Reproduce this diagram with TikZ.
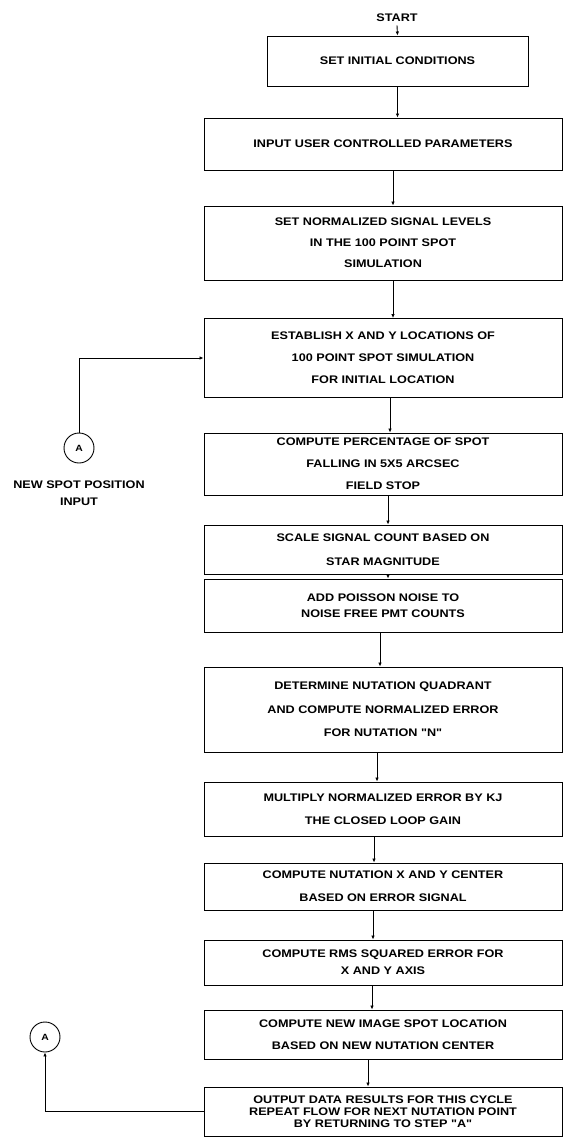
\documentclass[tikz,border=0pt]{standalone}
\usepackage{fontspec}
\newfontfamily\flowfont{Liberation Sans}[FakeStretch=1.15]
\usetikzlibrary{arrows.meta}

\begin{document}
\begin{tikzpicture}[x=1pt,y=1pt,yscale=-1,xscale=1,
  spread/.style={font=\flowfont\bfseries\fontsize{11}{#1}\selectfont},
  spread/.default=22,
  stepbox/.style={draw,line width=0.9pt,minimum width=358pt,inner sep=0pt,align=center,spread},
  conn/.style={draw,circle,line width=0.9pt,minimum size=30pt,inner sep=0pt,font=\flowfont\bfseries\fontsize{9}{11}\selectfont},
  flow/.style={line width=0.9pt,-{Latex[length=4pt,width=3.5pt]}}]
\useasboundingbox (0,0) rectangle (572,1142);

% Text Node
\node[spread] (start) at (397,18) {START};

%Shape: Rectangle [id:b1]
\node[stepbox,minimum width=261pt,minimum height=50pt] (b1) at (397.5,61) {SET INITIAL CONDITIONS};
%Shape: Rectangle [id:b2]
\node[stepbox,minimum height=52pt] (b2) at (383,144) {INPUT USER CONTROLLED PARAMETERS};
%Shape: Rectangle [id:b3]
\node[stepbox,spread=21,minimum height=74pt] (b3) at (383,243) {SET NORMALIZED SIGNAL LEVELS\\IN THE 100 POINT SPOT\\SIMULATION};
%Shape: Rectangle [id:b4]
\node[stepbox,minimum height=79pt] (b4) at (383,358) {ESTABLISH X AND Y LOCATIONS OF\\100 POINT SPOT SIMULATION\\FOR INITIAL LOCATION};
%Shape: Rectangle [id:b5]
\node[stepbox,minimum height=62pt] (b5) at (383,464) {COMPUTE PERCENTAGE OF SPOT\\FALLING IN 5X5 ARCSEC\\FIELD STOP};
%Shape: Rectangle [id:b6]
\node[stepbox,spread=24,minimum height=49pt] (b6) at (383,549.5) {SCALE SIGNAL COUNT BASED ON\\STAR MAGNITUDE};
%Shape: Rectangle [id:b7]
\node[stepbox,spread=16,minimum height=53pt] (b7) at (383,605.5) {ADD POISSON NOISE TO\\NOISE FREE PMT COUNTS};
%Shape: Rectangle [id:b8]
\node[stepbox,spread=23.5,minimum height=85pt] (b8) at (383,709.5) {DETERMINE NUTATION QUADRANT\\AND COMPUTE NORMALIZED ERROR\\FOR NUTATION "N"};
%Shape: Rectangle [id:b9]
\node[stepbox,spread=23,minimum height=54pt] (b9) at (383,809) {MULTIPLY NORMALIZED ERROR BY KJ\\THE CLOSED LOOP GAIN};
%Shape: Rectangle [id:b10]
\node[stepbox,spread=23,minimum height=47pt] (b10) at (383,886.5) {COMPUTE NUTATION X AND Y CENTER\\BASED ON ERROR SIGNAL};
%Shape: Rectangle [id:b11]
\node[stepbox,spread=17,minimum height=45pt] (b11) at (383,962.5) {COMPUTE RMS SQUARED ERROR FOR\\X AND Y AXIS};
%Shape: Rectangle [id:b12]
\node[stepbox,minimum height=49pt] (b12) at (383,1034.5) {COMPUTE NEW IMAGE SPOT LOCATION\\BASED ON NEW NUTATION CENTER};
%Shape: Rectangle [id:b13]
\node[stepbox,spread=12,minimum height=49pt] (b13) at (383,1111.5) {OUTPUT DATA RESULTS FOR THIS CYCLE\\REPEAT FLOW FOR NEXT NUTATION POINT\\BY RETURNING TO STEP "A"};

%Shape: Circle [id:a1]
\node[conn] (a1) at (79,448) {A};
%Shape: Circle [id:a2]
\node[conn] (a2) at (45,1037) {A};
% Text Node
\node[spread=17,align=center] (newspot) at (79,493) {NEW SPOT POSITION\\INPUT};

%Straight Lines [id:main flow]
\draw[flow] (start.south) -- (b1.north);
\draw[flow] (b1.south) -- (b1.south |- b2.north);
\foreach \a/\b/\dx in {b2/b3/10,b3/b4/10,b4/b5/7,b5/b6/5,b6/b7/5,b7/b8/-3,b8/b9/-6,b9/b10/-9,b10/b11/-10,b11/b12/-11,b12/b13/-15}
  \draw[flow] ([xshift=\dx pt]\a.south) -- ([xshift=\dx pt]\b.north);

%Straight Lines [id:connectors]
\draw[flow] (a1.north) |- (b4.west);
\draw[flow] (b13.west) -| (a2.south);

\end{tikzpicture}
\end{document}
